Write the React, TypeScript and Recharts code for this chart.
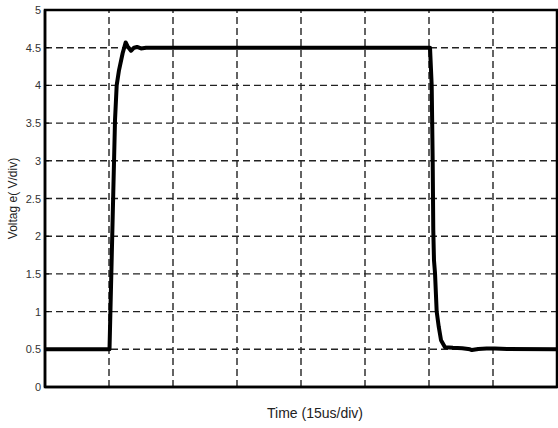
import React from 'react';
import {
  LineChart,
  Line,
  XAxis,
  YAxis,
  CartesianGrid,
  ReferenceLine,
  Label,
} from 'recharts';

// time in divisions (15us/div), voltage in V
const times = [
  0, 1.0, 1.008, 1.094, 1.12, 1.156, 1.214, 1.261, 1.289, 1.344, 1.391, 1.438, 1.5, 1.58,
  3.0, 4.5, 6.016, 6.042, 6.058, 6.067, 6.078, 6.094, 6.12, 6.152, 6.188, 6.25, 6.375,
  6.52, 6.64, 6.67, 6.77, 6.9, 7.03, 7.22, 8.0,
];
const voltages = [
  0.5, 0.5, 0.5, 3.54, 4.0, 4.2, 4.43, 4.57, 4.52, 4.46, 4.5, 4.51, 4.49, 4.5,
  4.5, 4.5, 4.5, 4.0, 2.97, 2.08, 1.68, 1.51, 1.0, 0.8, 0.62, 0.527, 0.52,
  0.515, 0.5, 0.49, 0.505, 0.51, 0.51, 0.505, 0.5,
];
const xTicks = [0, 1, 2, 3, 4, 5, 6, 7, 8];
const xGridLines = [1, 2, 3, 4, 5, 6, 7];
const yTicks = [0, 0.5, 1, 1.5, 2, 2.5, 3, 3.5, 4, 4.5, 5];
const yTickLabels = ['0', '0.5', '1', '1.5', '2', '2.5', '3', '3.5', '4', '4.5', '5'];
// plot frame corners (time div, volts)
const frameT = [0, 8, 8, 0, 0];
const frameV = [0, 0, 5, 5, 0];

const data = times.map((t, i) => ({ t, v: voltages[i] }));
const frameData = frameT.map((t, i) => ({ t, f: frameV[i] }));

const FONT = "Arial, 'Liberation Sans', sans-serif";
const GRID = '#222';

const YTick = (props: any) => {
  const { x, y, payload } = props;
  const idx = yTicks.indexOf(payload.value);
  const label = idx >= 0 ? yTickLabels[idx] : String(payload.value);
  return (
    <g>
      <line x1={x + 4} x2={x + 8} y1={y} y2={y} stroke="#000" strokeWidth={1} />
      <text x={x} y={y} dy={4} textAnchor="end" fontSize={11} fontFamily={FONT} fill="#333">
        {label}
      </text>
    </g>
  );
};

export default function App() {
  return (
    <div style={{ position: 'absolute', left: 0, top: 0, width: 558, height: 428, background: '#fff' }}>
      <LineChart
        width={558}
        height={428}
        data={data}
        margin={{ top: 10, right: 1, bottom: 0, left: 0 }}
      >
        <CartesianGrid
          stroke={GRID}
          strokeWidth={1.4}
          strokeDasharray="7 4"
          vertical={false}
          horizontalValues={yTicks}
        />
        {xGridLines.map((xv) => (
          <ReferenceLine
            key={'g' + xv}
            x={xv}
            stroke={GRID}
            strokeWidth={1.4}
            strokeDasharray="7 4"
          />
        ))}
        <XAxis
          type="number"
          dataKey="t"
          domain={[0, 8]}
          ticks={xTicks}
          tick={false}
          tickLine={false}
          axisLine={{ stroke: '#000', strokeWidth: 2.5 }}
          height={41}
          allowDuplicatedCategory
        >
          <Label
            value="Time (15us/div)"
            position="insideBottom"
            offset={10}
            dx={14}
            fontSize={14}
            fontFamily={FONT}
            fill="#222"
          />
        </XAxis>
        <YAxis
          type="number"
          domain={[0, 5]}
          ticks={yTicks}
          interval={0}
          width={45}
          tickLine={false}
          axisLine={{ stroke: '#000', strokeWidth: 2.5 }}
          tickSize={0}
          tickMargin={4}
          tick={<YTick />}
        >
          <Label
            value="Voltag e( V/div)"
            angle={-90}
            position="insideLeft"
            offset={13}
            fontSize={12}
            fontFamily={FONT}
            fill="#222"
            style={{ textAnchor: 'middle' }}
          />
        </YAxis>
        <Line
          data={frameData}
          type="linear"
          dataKey="f"
          stroke="#000"
          strokeWidth={2.5}
          dot={false}
          activeDot={false}
          isAnimationActive={false}
          strokeLinejoin="miter"
          strokeLinecap="square"
        />
        <Line
          type="linear"
          dataKey="v"
          stroke="#000"
          strokeWidth={4}
          dot={false}
          isAnimationActive={false}
          strokeLinejoin="round"
        />
      </LineChart>
    </div>
  );
}
